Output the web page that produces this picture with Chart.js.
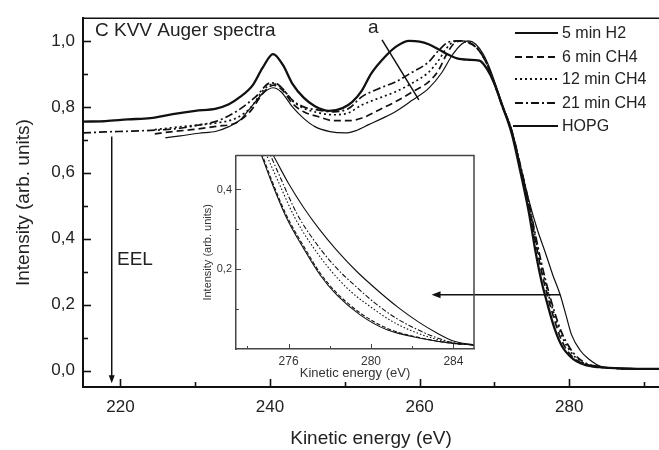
<!DOCTYPE html>
<html><head><meta charset="utf-8">
<script src="https://cdn.jsdelivr.net/npm/chart.js@4.4.1/dist/chart.umd.min.js"></script>
<style>
html,body{margin:0;padding:0;background:#fff;}
#wrap{position:relative;width:659px;height:450px;overflow:hidden;background:#fff;}
#main{position:absolute;left:0;top:0;}
#inset{position:absolute;left:190px;top:145px;}
</style></head><body>
<div id="wrap"><canvas id="main" width="659" height="450"></canvas><canvas id="inset" width="290" height="240"></canvas></div>
<script>
const FONT = "'Liberation Sans', Arial, Helvetica, sans-serif";

// ---- main chart data (kinetic energy eV, intensity arb. units) ----
const seriesNames = ['5 min H2', '6 min CH4', '12 min CH4', '21 min CH4', 'HOPG'];

const energyHOPG = [215,218,221,224,227,230,232.8,234.5,236,237.7,239,240.4,241.7,243,244.5,246,247.9,249.7,251,252.3,253.5,255.5,257,258.6,260,261.2,262.5,263.5,265,266.5,268,269,270,271,272.3,273.5,274.6,275.5,276.3,277,278,279,280.5,282,284,287,292];
const intHOPG    = [.755,.757,.762,.766,.778,.788,.795,.808,.83,.866,.918,.96,.928,.87,.828,.802,.788,.796,.815,.85,.9,.955,.985,1.0,.998,.99,.975,.962,.947,.943,.94,.915,.87,.806,.72,.6,.48,.36,.27,.209,.13,.075,.035,.018,.01,.006,.005];

const energyH2 = [226,228,230.5,232.8,234.5,236,237.5,239,240.4,241.5,243,244.5,246,248,250.1,251.5,253.2,255,256.8,259,261.2,263,264.3,265.6,266.5,267.5,268.5,269.5,270.5,271.5,272.3,273.5,274.6,275.7,276.8,277.8,278.8,279.6,280.3,281.5,282.6,284.3,287,292];
const intH2    = [.706,.712,.72,.726,.74,.76,.8,.84,.858,.845,.8,.765,.74,.725,.721,.728,.746,.765,.786,.82,.856,.905,.955,.99,1.0,.99,.96,.91,.845,.78,.731,.62,.517,.43,.358,.29,.229,.165,.109,.06,.035,.012,.007,.005];

const energyCH4_6 = [224.6,227,230,232.8,235.5,237.5,239,240.5,241.7,243,244.5,246.5,248.5,250.5,252.3,254.5,256.8,259,261.2,262.5,263.5,264.5,265.5,266.5,267.8,269,270,271,272.3,273.5,274.6,275.5,276.3,277,278,279,280.5,282,284,287,292];
const intCH4_6    = [.718,.725,.732,.741,.752,.79,.84,.866,.85,.81,.785,.77,.758,.758,.766,.79,.816,.845,.876,.91,.955,.99,1.0,.997,.975,.93,.87,.806,.725,.61,.5,.39,.3,.235,.155,.09,.04,.02,.011,.006,.005];

const energyCH4_12 = [224.6,227,230,232.8,235.5,237.5,239,240.5,241.7,243,244.5,246.5,248.5,250.5,252.3,254.5,256.8,259,261.2,262.5,263.5,264.5,265.5,266.5,267.8,269,270,271,272.3,273.5,274.6,275.5,276.3,277,278,279,280.5,282,284,287,292];
const intCH4_12    = [.731,.737,.744,.751,.766,.8,.848,.87,.855,.818,.796,.782,.776,.782,.806,.826,.846,.872,.905,.94,.975,.997,1.0,.995,.975,.93,.87,.806,.728,.615,.505,.4,.315,.25,.17,.105,.048,.022,.011,.006,.005];

const energyCH4_21 = [215,218,221,223.5,226,228,230.5,232.8,235.5,238.1,240.1,241.2,243,244.5,246.5,248.5,250.5,252.3,254.5,256.8,259,261.2,262.5,263.9,265,266.5,267.8,269,270,271,272.3,273.5,274.6,275.5,276.3,277,278,279,280.5,282,284,287,292];
const intCH4_21    = [.721,.724,.726,.728,.731,.735,.745,.756,.786,.831,.873,.866,.82,.8,.79,.785,.795,.831,.855,.876,.905,.936,.97,.997,1.0,.995,.975,.93,.87,.806,.73,.62,.51,.41,.325,.26,.18,.115,.055,.025,.012,.006,.005];

// ---- inset data (edge region) ----
const insetEnergyH2 = [273.5,274.5,275.26,276,276.73,277.5,278.3,279.3,280.3,281.3,282.3,283.2,284,285];
const insetIntH2    = [.63,.55,.485,.415,.355,.3,.25,.195,.148,.105,.068,.04,.02,.01];
const insetEnergyHOPG = [273.5,274.7,275.11,275.92,276.73,277.54,278.35,279.49,280.78,282.4,284,285];
const insetIntHOPG    = [.64,.484,.427,.327,.252,.185,.135,.085,.048,.027,.014,.01];
const insetEnergyCH4_6 = [273.5,274.7,275.11,275.92,276.73,277.54,278.35,279.49,280.78,282.4,284,285];
const insetIntCH4_6    = [.645,.49,.433,.333,.258,.19,.14,.09,.052,.028,.014,.01];
const insetEnergyCH4_12 = [273.5,274.9,275.5,276.3,277,278,279,280,281,282,283,284,285];
const insetIntCH4_12    = [.66,.49,.42,.33,.27,.2,.145,.105,.07,.045,.027,.015,.01];
const insetEnergyCH4_21 = [273.5,275.0,275.6,276.4,277.2,278.2,279.2,280.2,281.2,282.2,283.2,284,285];
const insetIntCH4_21    = [.67,.5,.43,.34,.275,.21,.16,.115,.078,.05,.028,.016,.01];

// ---- ticks ----
const xTickValues = [220,230,240,250,260,270,280,290];
const xTickLabels = [220, 240, 260, 280];
const yTickValues = [0,0.1,0.2,0.3,0.4,0.5,0.6,0.7,0.8,0.9,1.0];
const yTickLabels = ['0,0','0,2','0,4','0,6','0,8','1,0'];
const insetXTickValues = [274,275,276,277,278,279,280,281,282,283,284];
const insetXTickLabels = [276, 280, 284];
const insetYTickValues = [0.1,0.2,0.3,0.4];
const insetYTickLabels = ['0,2','0,4'];

const styles = {
  '5 min H2':   {dash: [], width: 1.2},
  '6 min CH4':  {dash: [7,4], width: 1.7},
  '12 min CH4': {dash: [2,3], width: 1.7},
  '21 min CH4': {dash: [8,3,2,3], width: 1.7},
  'HOPG':       {dash: [], width: 2.3}
};
const insetStyles = {
  '5 min H2':   {dash: [], width: 1.1},
  '6 min CH4':  {dash: [4,2], width: 1.1},
  '12 min CH4': {dash: [1.5,2], width: 1.1},
  '21 min CH4': {dash: [5,2,1.5,2], width: 1.1},
  'HOPG':       {dash: [], width: 1.1}
};

function pts(E, I) { return E.map((e, i) => ({x: e, y: I[i]})); }
function mkSet(name, E, I, st) {
  return {label: name, data: pts(E, I), borderColor: '#111', borderWidth: st.width,
    borderDash: st.dash, pointRadius: 0, fill: false, cubicInterpolationMode: 'monotone'};
}

const mainSets = [
  mkSet('5 min H2', energyH2, intH2, styles['5 min H2']),
  mkSet('6 min CH4', energyCH4_6, intCH4_6, styles['6 min CH4']),
  mkSet('12 min CH4', energyCH4_12, intCH4_12, styles['12 min CH4']),
  mkSet('21 min CH4', energyCH4_21, intCH4_21, styles['21 min CH4']),
  mkSet('HOPG', energyHOPG, intHOPG, styles['HOPG'])
];
const insetSets = [
  mkSet('5 min H2', insetEnergyH2, insetIntH2, insetStyles['5 min H2']),
  mkSet('6 min CH4', insetEnergyCH4_6, insetIntCH4_6, insetStyles['6 min CH4']),
  mkSet('12 min CH4', insetEnergyCH4_12, insetIntCH4_12, insetStyles['12 min CH4']),
  mkSet('21 min CH4', insetEnergyCH4_21, insetIntCH4_21, insetStyles['21 min CH4']),
  mkSet('HOPG', insetEnergyHOPG, insetIntHOPG, insetStyles['HOPG'])
];

function fmtY(v, labels) {
  const s = (Math.round(v * 10) / 10).toFixed(1).replace('.', ',');
  return labels.includes(s) ? s : '';
}
function fmtX(v, labels) {
  const r = Math.round(v);
  return labels.includes(r) ? String(r) : '';
}
function setTicks(values) {
  return function(scale) { scale.ticks = values.map(v => ({value: v})); };
}

const TEXT = '#222';

const mainDecor = {
  id: 'mainDecor',
  afterDraw(chart) {
    const {ctx, chartArea: a, scales: {x, y}} = chart;
    ctx.save();
    ctx.strokeStyle = '#111';
    ctx.lineWidth = 1.6;
    ctx.beginPath(); ctx.moveTo(a.left, a.top); ctx.lineTo(a.right, a.top); ctx.stroke();
    xTickValues.forEach(e => {
      const px = Math.round(x.getPixelForValue(e)) + 0.5;
      const len = xTickLabels.includes(e) ? 8 : 5;
      ctx.beginPath(); ctx.moveTo(px, a.bottom); ctx.lineTo(px, a.bottom - len); ctx.stroke();
    });
    yTickValues.forEach(v => {
      const py = Math.round(y.getPixelForValue(v)) + 0.5;
      const len = fmtY(v, yTickLabels) ? 8 : 5;
      ctx.beginPath(); ctx.moveTo(a.left, py); ctx.lineTo(a.left + len, py); ctx.stroke();
    });
    // annotations
    ctx.fillStyle = TEXT;
    ctx.font = '19px ' + FONT;
    ctx.textBaseline = 'alphabetic';
    ctx.textAlign = 'left';
    ctx.fillText('C KVV Auger spectra', 95, 36);
    ctx.fillText('a', 368, 33);
    ctx.fillText('EEL', 117, 265);
    ctx.lineWidth = 1.5;
    ctx.beginPath();
    ctx.moveTo(x.getPixelForValue(254.97), y.getPixelForValue(1.003));
    ctx.lineTo(x.getPixelForValue(259.9), y.getPixelForValue(0.821));
    ctx.stroke();
    const ex = x.getPixelForValue(218.84);
    const ey0 = y.getPixelForValue(0.71), ey1 = y.getPixelForValue(-0.039);
    ctx.beginPath(); ctx.moveTo(ex, ey0); ctx.lineTo(ex, ey1 - 6); ctx.stroke();
    ctx.fillStyle = '#111';
    ctx.beginPath(); ctx.moveTo(ex, ey1); ctx.lineTo(ex - 3, ey1 - 8); ctx.lineTo(ex + 3, ey1 - 8); ctx.closePath(); ctx.fill();
    const ay = y.getPixelForValue(0.23);
    const ax0 = x.getPixelForValue(278.8), ax1 = x.getPixelForValue(261.6);
    ctx.beginPath(); ctx.moveTo(ax0, ay); ctx.lineTo(ax1 + 6, ay); ctx.stroke();
    ctx.beginPath(); ctx.moveTo(ax1, ay); ctx.lineTo(ax1 + 9, ay - 3.5); ctx.lineTo(ax1 + 9, ay + 3.5); ctx.closePath(); ctx.fill();
    // legend
    const rows = [33, 57, 79, 103, 126];
    ctx.font = '16px ' + FONT;
    ctx.textBaseline = 'middle';
    seriesNames.forEach((n, i) => {
      const st = styles[n];
      ctx.setLineDash(st.dash);
      ctx.lineWidth = 1.8;
      ctx.strokeStyle = '#111';
      ctx.beginPath(); ctx.moveTo(n === 'HOPG' ? 513 : 515, rows[i]); ctx.lineTo(558, rows[i]); ctx.stroke();
      ctx.setLineDash([]);
      ctx.fillStyle = TEXT;
      ctx.fillText(n, 562, rows[i] + 1);
    });
    ctx.restore();
  }
};

new Chart(document.getElementById('main'), {
  type: 'line',
  data: {datasets: mainSets},
  options: {
    responsive: false, animation: false, devicePixelRatio: 1,
    layout: {padding: {top: 12, right: 0, left: 0, bottom: 0}},
    plugins: {legend: {display: false}, tooltip: {enabled: false}},
    scales: {
      x: {
        type: 'linear', min: 215, max: 292,
        afterBuildTicks: setTicks(xTickValues),
        afterFit(s) { s.height = 63; },
        grid: {display: false, drawTicks: false},
        border: {display: true, color: '#111', width: 2},
        ticks: {autoSkip: false, maxRotation: 0, padding: 10, color: TEXT,
          font: {family: FONT, size: 17},
          callback: v => fmtX(v, xTickLabels)},
        title: {display: true, text: 'Kinetic energy (eV)', color: TEXT, font: {family: FONT, size: 19}, padding: {top: 0, bottom: 0}}
      },
      y: {
        type: 'linear', min: -0.05, max: 1.069,
        afterBuildTicks: setTicks(yTickValues),
        afterFit(s) { s.width = 83; },
        grid: {display: false, drawTicks: false},
        border: {display: true, color: '#111', width: 2},
        ticks: {autoSkip: false, padding: 8, color: TEXT,
          font: {family: FONT, size: 17},
          callback: v => fmtY(v, yTickLabels)},
        title: {display: true, text: 'Intensity (arb. units)', color: TEXT, font: {family: FONT, size: 19}, padding: {top: 12, bottom: 0}}
      }
    }
  },
  plugins: [mainDecor]
});

const insetDecor = {
  id: 'insetDecor',
  afterDraw(chart) {
    const {ctx, chartArea: a, scales: {x, y}} = chart;
    ctx.save();
    ctx.strokeStyle = '#444';
    ctx.lineWidth = 1.5;
    ctx.beginPath();
    ctx.moveTo(a.left, a.top); ctx.lineTo(a.right, a.top); ctx.lineTo(a.right, a.bottom);
    ctx.stroke();
    ctx.lineWidth = 1;
    [274,276,278,280,282,284].forEach(e => {
      const px = Math.round(x.getPixelForValue(e)) + 0.5;
      const len = insetXTickLabels.includes(e) ? 5 : 3;
      ctx.beginPath(); ctx.moveTo(px, a.bottom); ctx.lineTo(px, a.bottom - len); ctx.stroke();
    });
    insetYTickValues.forEach(v => {
      const py = Math.round(y.getPixelForValue(v)) + 0.5;
      const len = fmtY(v, insetYTickLabels) ? 5 : 3;
      ctx.beginPath(); ctx.moveTo(a.left, py); ctx.lineTo(a.left + len, py); ctx.stroke();
    });
    ctx.restore();
  }
};

new Chart(document.getElementById('inset'), {
  type: 'line',
  data: {datasets: insetSets},
  options: {
    responsive: false, animation: false, devicePixelRatio: 1,
    layout: {padding: {top: 10, right: 6, left: 0, bottom: 0}},
    plugins: {legend: {display: false}, tooltip: {enabled: false}},
    scales: {
      x: {
        type: 'linear', min: 273.45, max: 285,
        afterBuildTicks: setTicks(insetXTickValues),
        afterFit(s) { s.height = 36; },
        grid: {display: false, drawTicks: false},
        border: {display: true, color: '#444', width: 1.5},
        ticks: {autoSkip: false, maxRotation: 0, padding: 5, color: '#333',
          font: {family: FONT, size: 12},
          callback: v => fmtX(v, insetXTickLabels)},
        title: {display: true, text: 'Kinetic energy (eV)', color: '#333', font: {family: FONT, size: 13}, padding: {top: 0, bottom: 4}}
      },
      y: {
        type: 'linear', min: 0, max: 0.485,
        afterBuildTicks: setTicks(insetYTickValues),
        afterFit(s) { s.width = 46; },
        grid: {display: false, drawTicks: false},
        border: {display: true, color: '#444', width: 1.5},
        ticks: {autoSkip: false, padding: 4, color: '#333',
          font: {family: FONT, size: 11},
          callback: v => fmtY(v, insetYTickLabels)},
        title: {display: true, text: 'Intensity (arb. units)', color: '#333', font: {family: FONT, size: 11}, padding: {top: 11, bottom: 0}}
      }
    }
  },
  plugins: [insetDecor]
});
</script>
</body></html>
